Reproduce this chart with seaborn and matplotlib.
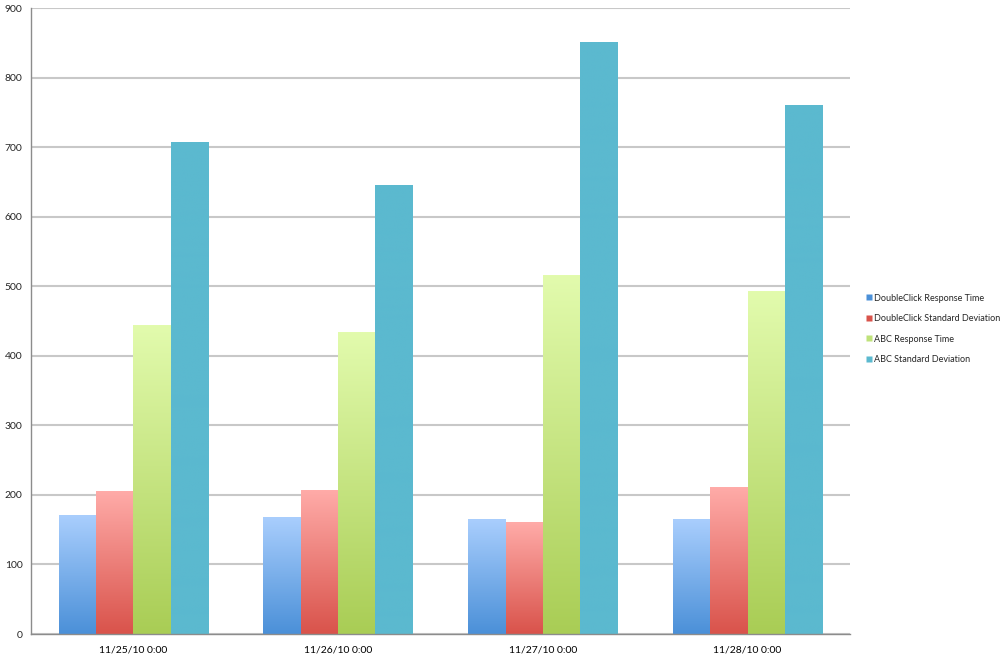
import numpy as np
import pandas as pd
import matplotlib
matplotlib.use("Agg")
import matplotlib.pyplot as plt
import matplotlib.colors as mcolors
from matplotlib.lines import Line2D
import seaborn as sns

# data
dates = ["11/25/10 0:00", "11/26/10 0:00", "11/27/10 0:00", "11/28/10 0:00"]
series = ["DoubleClick Response Time", "DoubleClick Standard Deviation",
          "ABC Response Time", "ABC Standard Deviation"]
dc_response = [171, 168, 164, 164]
dc_std = [205, 207, 161, 210]
abc_response = [444, 433, 515, 493]
abc_std = [706, 645, 850, 760]

# (top colour, bottom colour) for each series
grad_colors = [("#a9cefd", "#4b90d8"),
               ("#ffaba8", "#d9534b"),
               ("#e2fbad", "#a9cd55"),
               ("#5bb9cf", "#5bb9cf")]

df = pd.DataFrame({
    "date": dates * 4,
    "series": np.repeat(series, 4),
    "value": dc_response + dc_std + abc_response + abc_std,
})

sns.set_style("white")
plt.rcParams["font.family"] = ["Lato", "DejaVu Sans"]

fig = plt.figure(figsize=(10.04, 6.54), dpi=100)
ax = fig.add_axes([31 / 1004, 20 / 654, 819 / 1004, 626 / 654])

sns.barplot(data=df, x="date", y="value", hue="series", order=dates,
            hue_order=series, width=0.73, palette=[c[1] for c in grad_colors],
            legend=False, ax=ax, saturation=1)

# replace flat fills with a vertical gradient per bar
for i, cont in enumerate(ax.containers):
    top_c = np.array(mcolors.to_rgba(grad_colors[i][0]))
    bot_c = np.array(mcolors.to_rgba(grad_colors[i][1]))
    t = np.linspace(0, 1, 128)[:, None]
    grad = (bot_c * (1 - t) + top_c * t)[:, None, :]
    for p in cont.patches:
        x, w, h = p.get_x(), p.get_width(), p.get_height()
        ax.imshow(grad, extent=[x, x + w, 0, h], origin="lower",
                  aspect="auto", zorder=2, interpolation="bilinear")
        p.set_visible(False)

ax.set_xlim(-0.5, 3.5)
ax.set_ylim(0, 900)
ax.set_yticks(np.arange(0, 901, 100))
ax.yaxis.grid(True, color="#c8c8c8", linewidth=1.5)
ax.set_axisbelow(True)
ax.set_xlabel("")
ax.set_ylabel("")

for s in ["top", "right"]:
    ax.spines[s].set_visible(False)
for s in ["left", "bottom"]:
    ax.spines[s].set_color("#8c8c8c")
    ax.spines[s].set_linewidth(1.0)

ax.set_xticks(range(len(dates)))
ax.set_xticklabels(dates)
ax.set_xticks(np.arange(-0.5, 4.0, 1.0), minor=True)
ax.tick_params(axis="x", which="major", length=0, pad=8, labelsize=7.5, colors="black")
ax.tick_params(axis="x", which="minor", length=4, color="#8c8c8c", direction="out")
ax.tick_params(axis="y", length=4, color="#8c8c8c", direction="out", labelsize=7.5, pad=2)

handles = [Line2D([0], [0], marker="s", linestyle="", markersize=5,
                  markerfacecolor=c[1] if i != 2 else "#bfe27a",
                  markeredgecolor="none") for i, c in enumerate(grad_colors)]
fig.legend(handles, series, loc="upper left", bbox_to_anchor=(861 / 1004, 1 - 290 / 654),
           frameon=False, fontsize=6.5, handletextpad=0.0, labelspacing=1.27,
           handlelength=1.0, borderaxespad=0)

fig.savefig("out.png", dpi=100)
